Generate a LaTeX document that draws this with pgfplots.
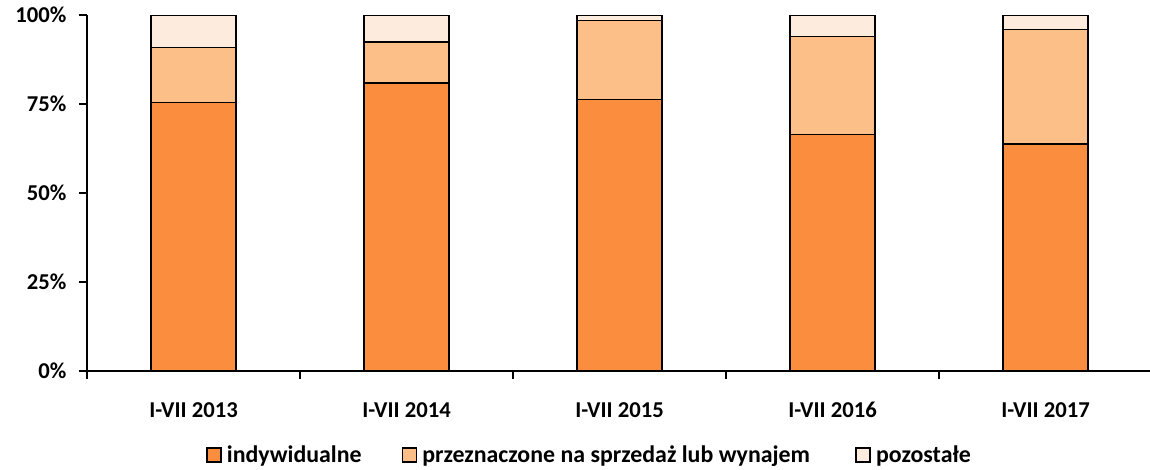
\documentclass[border=0pt]{standalone}
\usepackage{pgfplots}
\pgfplotsset{compat=1.18}
\usepackage{fontspec}
\setmainfont{Carlito}
\definecolor{c1}{HTML}{FB8E3E}
\definecolor{c2}{HTML}{FBBF87}
\definecolor{c3}{HTML}{FDEBDD}
\begin{document}
\begin{tikzpicture}
\begin{axis}[
  at={(0,0)}, anchor=south west,
  scale only axis,
  width=798.75pt, height=267pt,
  ybar stacked, bar width=63.75pt,
  xmin=0.5, xmax=5.5, ymin=0, ymax=100,
  axis x line*=bottom, axis y line*=left,
  axis line style={black, line width=1pt},
  xtick={1,2,3,4,5},
  xticklabels={I-VII 2013, I-VII 2014, I-VII 2015, I-VII 2016, I-VII 2017},
  major x tick style={draw=none},
  minor xtick={0.5,1.5,2.5,3.5,4.5,5.5},
  minor x tick style={black, line width=1pt},
  minor tick length=6pt,
  tick align=outside,
  ytick={0,25,50,75,100},
  yticklabel={\pgfmathprintnumber{\tick}\%},
  y tick style={black, line width=1pt},
  major tick length=6pt,
  /pgf/number format/assume math mode=true,
  tick label style={font=\fontsize{17}{20}\selectfont\bfseries},
  xticklabel style={anchor=base, yshift=-29pt},
  yticklabel style={anchor=east, xshift=-6pt},
  every axis plot/.append style={draw=black, line width=1.1pt},
  legend columns=3,
  legend style={draw=none, at={(0.108,-0.236)}, anchor=west,
    font=\fontsize{17.9}{20}\selectfont\bfseries,
    /tikz/every node/.append style={inner sep=1pt},
    /tikz/column 1/.style={column sep=3pt},
    /tikz/column 2/.style={column sep=29pt},
    /tikz/column 3/.style={column sep=3pt},
    /tikz/column 4/.style={column sep=33pt},
    /tikz/column 5/.style={column sep=3pt}},
  legend image code/.code={\draw[#1, line width=1pt] (0pt,-5.25pt) rectangle (10.5pt,5.25pt);},
]
\addplot[fill=c1] coordinates {(1,75.4) (2,80.9) (3,76.3) (4,66.4) (5,63.8)};
\addplot[fill=c2] coordinates {(1,15.4) (2,11.5) (3,22.2) (4,27.6) (5,32.2)};
\addplot[fill=c3] coordinates {(1,9.2) (2,7.6) (3,1.5) (4,6.0) (5,4.0)};
\legend{indywidualne, przeznaczone na sprzedaż lub wynajem, pozostałe}
\end{axis}
\pgfresetboundingbox
\path (-65.25pt,-73.5pt) rectangle (797.25pt,278.25pt);
\end{tikzpicture}
\end{document}
